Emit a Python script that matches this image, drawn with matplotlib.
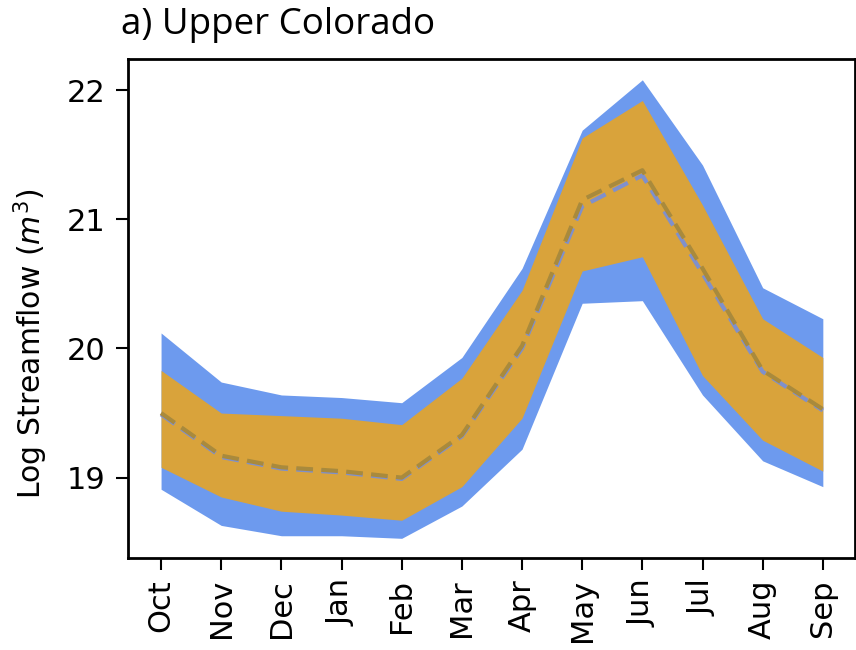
import numpy as np
import matplotlib
matplotlib.use("Agg")
import matplotlib.pyplot as plt

months = ["Oct", "Nov", "Dec", "Jan", "Feb", "Mar", "Apr", "May", "Jun", "Jul", "Aug", "Sep"]

# wide envelope (blue)
blue_hi = [20.12, 19.74, 19.64, 19.62, 19.58, 19.93, 20.62, 21.69, 22.08, 21.42, 20.47, 20.23]
blue_lo = [18.91, 18.63, 18.55, 18.55, 18.53, 18.78, 19.22, 20.35, 20.37, 19.64, 19.13, 18.93]
blue_mean = [19.49, 19.16, 19.07, 19.04, 18.99, 19.32, 20.00, 21.10, 21.34, 20.58, 19.82, 19.52]

# narrow envelope (orange)
orange_hi = [19.83, 19.50, 19.48, 19.46, 19.41, 19.77, 20.45, 21.63, 21.92, 21.11, 20.23, 19.93]
orange_lo = [19.08, 18.85, 18.74, 18.71, 18.67, 18.93, 19.46, 20.60, 20.71, 19.79, 19.29, 19.05]
orange_mean = [19.50, 19.17, 19.08, 19.05, 19.00, 19.33, 20.02, 21.15, 21.38, 20.62, 19.83, 19.53]

x = np.arange(len(months))

fig = plt.figure(figsize=(8.56, 6.5), dpi=100)
ax = fig.add_axes([0.1495, 0.142, 0.849, 0.767])

ax.fill_between(x, blue_lo, blue_hi, color="#6d9aee", lw=0)
ax.fill_between(x, orange_lo, orange_hi, color="#d9a33b", lw=0)
ax.plot(x, blue_mean, ls="--", color="#7f90cc", lw=3, dashes=(4, 2))
ax.plot(x, orange_mean, ls="--", color="#a98a3c", lw=3, dashes=(4, 2))

ax.set_xlim(-0.55, 11.53)
ax.set_ylim(18.38, 22.24)
ax.set_xticks(x)
ax.set_xticklabels(months, rotation=90)
ax.set_yticks([19, 20, 21, 22])
ax.tick_params(labelsize=22, length=8.5, width=1.5)
ax.tick_params(axis="y", pad=8)
ax.tick_params(axis="x", pad=7)
for s in ax.spines.values():
    s.set_linewidth(2)

ax.set_ylabel("Log Streamflow ($m^3$)", fontsize=21.5)
ax.yaxis.set_label_coords(-0.107, 0.43)
fig.text(0.141, 0.962, "a) Upper Colorado", fontsize=26.5, family="Open Sans", va="center")

fig.savefig("out.png", dpi=100)
